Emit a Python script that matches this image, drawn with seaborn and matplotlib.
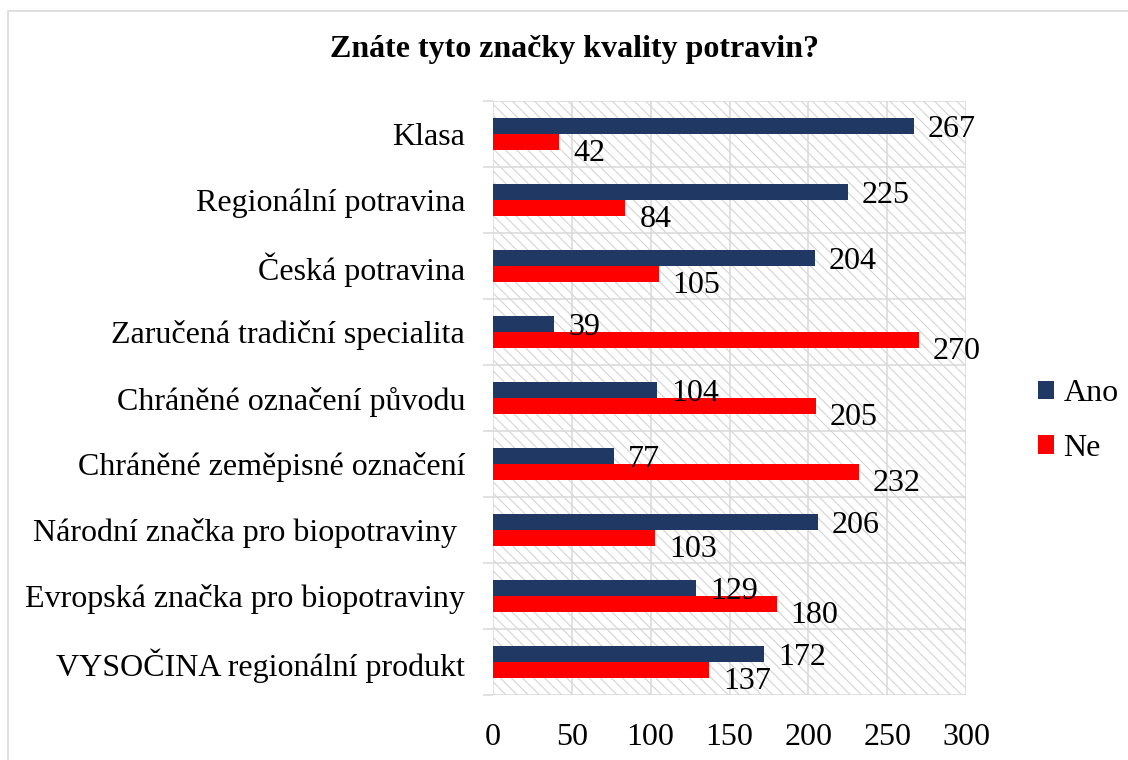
import matplotlib
matplotlib.use("Agg")
import matplotlib.pyplot as plt
from matplotlib.patches import Rectangle
import pandas as pd
import seaborn as sns

categories = [
    "Klasa",
    "Regionální potravina",
    "Česká potravina",
    "Zaručená tradiční specialita",
    "Chráněné označení původu",
    "Chráněné zeměpisné označení",
    "Národní značka pro biopotraviny ",
    "Evropská značka pro biopotraviny",
    "VYSOČINA regionální produkt",
]
ano = [267, 225, 204, 39, 104, 77, 206, 129, 172]
ne = [42, 84, 105, 270, 205, 232, 103, 180, 137]
series = ["Ano", "Ne"]
colors = {"Ano": "#203864", "Ne": "#FF0000"}
xticks = [0, 50, 100, 150, 200, 250, 300]
title = "Znáte tyto značky kvality potravin?"

df = pd.DataFrame({
    "kategorie": categories * 2,
    "odpoved": ["Ano"] * len(categories) + ["Ne"] * len(categories),
    "pocet": ano + ne,
})

sns.set_style("white")
plt.rcParams["font.family"] = ["Liberation Serif", "DejaVu Serif"]
plt.rcParams["hatch.linewidth"] = 0.8
plt.rcParams["text.color"] = "black"
plt.rcParams["xtick.color"] = "black"
plt.rcParams["ytick.color"] = "black"

FS = 23

fig = plt.figure(figsize=(11.28, 7.6), dpi=100)
ax = fig.add_axes([493 / 1128, 1 - 695 / 760, (966 - 493) / 1128, (695 - 101) / 760])

# hatched plot background
ax.add_patch(Rectangle((0, 0), 1, 1, transform=ax.transAxes, facecolor="white",
                       edgecolor="#d4d4d4", hatch="\\\\\\", lw=0, zorder=0))

sns.barplot(data=df, y="kategorie", x="pocet", hue="odpoved", hue_order=series,
            palette=colors, orient="h", width=0.47, ax=ax, zorder=3,
            saturation=1, legend=True, linewidth=0)

ax.set_xlim(0, 300)
ax.set_ylim(len(categories) - 0.5, -0.5)
ax.set_xticks(xticks)
ax.set_xticklabels([str(t) for t in xticks], fontsize=FS)
ax.tick_params(axis="x", length=0, pad=20)
ax.tick_params(axis="y", which="major", length=0, labelsize=FS, pad=20)
ax.set_yticks([i - 0.5 for i in range(len(categories) + 1)], minor=True)
ax.tick_params(axis="y", which="minor", left=True, length=7, color="#d9d9d9", width=1.1)
ax.grid(True, axis="x", color="#d9d9d9", lw=1.1, zorder=1)
ax.grid(True, axis="y", which="minor", color="#d9d9d9", lw=1.1, zorder=1)
ax.grid(False, axis="y", which="major")
ax.set_axisbelow(True)
ax.set_xlabel("")
ax.set_ylabel("")
for s in ax.spines.values():
    s.set_visible(False)

# value labels
offsets = {"Ano": -2.5, "Ne": -8.5}
for cont, name in zip(ax.containers, series):
    for bar in cont:
        v = bar.get_width()
        yc = bar.get_y() + bar.get_height() / 2
        ax.annotate(f"{v:.0f}", (v, yc), xytext=(10, offsets[name]),
                    textcoords="offset points", va="center", ha="left",
                    fontsize=FS, zorder=5)

handles, labels = ax.get_legend_handles_labels()
ax.legend_.remove()
fig.legend(handles, labels, loc="center left", bbox_to_anchor=(1022 / 1128, 1 - 421 / 760),
           frameon=False, fontsize=FS, handlelength=0.5, handleheight=0.5,
           handletextpad=0.3, labelspacing=0.8, borderpad=0)

fig.text(575 / 1128, 1 - 50 / 760, title, ha="center", va="center",
         fontsize=FS, fontweight="bold")

# outer chart border
fig.add_artist(Rectangle((8 / 1128, -0.05), 1.1, 1 - 11 / 760 + 0.05,
                         transform=fig.transFigure, fill=False,
                         edgecolor="#d9d9d9", lw=1.2))

fig.savefig("out.png", dpi=100)
